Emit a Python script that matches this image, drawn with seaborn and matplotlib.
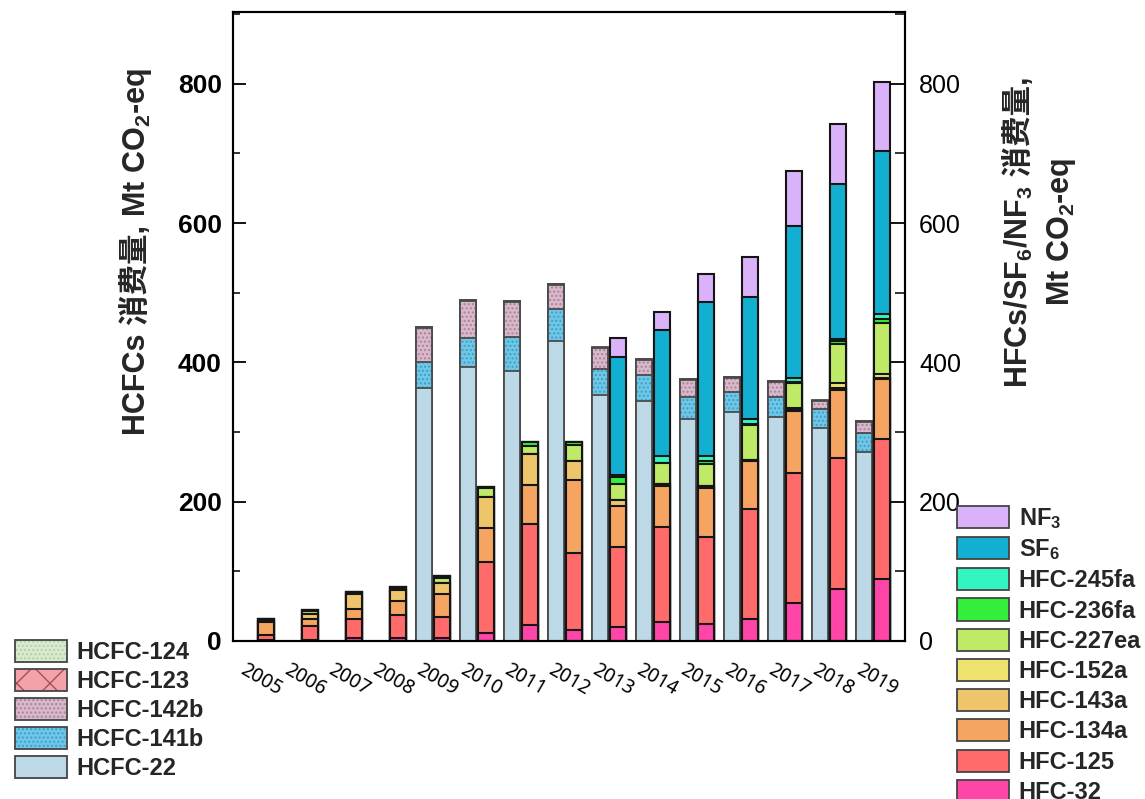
import numpy as np
import matplotlib
matplotlib.use('Agg')
import matplotlib.pyplot as plt
import seaborn as sns
from matplotlib.patches import Patch
from matplotlib.ticker import MultipleLocator
from matplotlib.transforms import IdentityTransform, ScaledTranslation

# years on the x axis
years = list(range(2005, 2020))
hcfc_years = list(range(2009, 2020))

# HCFCs consumption, Mt CO2-eq (bottom -> top of the stack)
hcfc_22 = [363, 393, 388, 431, 353, 345, 319, 329, 321, 306, 271]
hcfc_141b = [38, 42, 49, 46, 38, 37, 31, 29, 29, 27, 28]
hcfc_142b = [49, 53, 50, 34, 29, 22, 25, 20, 22, 11, 16]
hcfc_123 = [1, 1, 1, 1, 1, 1, 1, 1, 1, 1, 1]
hcfc_124 = [0.5, 0.5, 0.5, 0.5, 0.5, 0.5, 0.5, 0.5, 0.5, 0.5, 0.5]

# HFCs / SF6 / NF3 consumption, Mt CO2-eq (bottom -> top of the stack)
hfc_32 = [1, 1, 4, 5, 5, 12, 23, 16, 20, 27, 24, 32, 54, 74, 89]
hfc_125 = [8, 21, 28, 32, 30, 101, 145, 111, 115, 137, 126, 157, 187, 189, 201]
hfc_134a = [18, 10, 14, 21, 32, 49, 56, 104, 59, 59, 69, 69, 89, 97, 86]
hfc_143a = [2, 7, 21, 15, 16, 45, 45, 28, 9, 2, 4, 2, 2, 3, 2]
hfc_152a = [0, 0, 0, 0, 0, 0, 0, 0, 0, 0, 0, 0, 2, 7, 6]
hfc_227ea = [2, 4, 4, 3, 7, 12, 11, 22, 23, 31, 31, 50, 36, 56, 72]
hfc_236fa = [1, 1, 0, 2, 3, 2, 5, 5, 10, 0, 5, 1, 2, 4, 6]
hfc_245fa = [0, 0, 0, 0, 0, 0, 0, 0, 2, 10, 7, 7, 5, 4, 8]
sf6 = [0, 0, 0, 0, 0, 0, 0, 0, 169, 181, 221, 176, 219, 222, 233]
nf3 = [0, 0, 0, 0, 0, 0, 0, 0, 28, 25, 40, 57, 79, 86, 99]

hcfc_layers = [hcfc_22, hcfc_141b, hcfc_142b, hcfc_123, hcfc_124]
hcfc_names = ['HCFC-22', 'HCFC-141b', 'HCFC-142b', 'HCFC-123', 'HCFC-124']
hcfc_colors = ['#BDD9E7', '#6FC7E6', '#D9B8CC', '#F2A2AB', '#D9EBCF']
hcfc_hatch = [None, '....', '....', 'x', '....']
hcfc_hatch_col = [None, '#3E9FCB', '#A9849A', '#A8505A', '#B4CFA6']

hfc_layers = [hfc_32, hfc_125, hfc_134a, hfc_143a, hfc_152a, hfc_227ea,
              hfc_236fa, hfc_245fa, sf6, nf3]
hfc_names = ['HFC-32', 'HFC-125', 'HFC-134a', 'HFC-143a', 'HFC-152a',
             'HFC-227ea', 'HFC-236fa', 'HFC-245fa', 'SF$_6$', 'NF$_3$']
hfc_colors = ['#FF45A8', '#FF6B6B', '#F5A462', '#EFC56B', '#EEE36E',
              '#BEEA67', '#33EE3A', '#33F5C0', '#12AFD0', '#DAB2FA']

sns.set_style('ticks')
plt.rcParams['font.family'] = ['Liberation Sans', 'DejaVu Sans', 'Noto Sans CJK SC']
plt.rcParams['mathtext.default'] = 'regular'
plt.rcParams['hatch.linewidth'] = 1.0

fig = plt.figure(figsize=(11.45, 7.99), dpi=100)
ax = fig.add_axes([233/1145, 1-641/799, 672/1145, 629/799])

bw = 0.36
hcfc_pos = np.array([years.index(y) for y in hcfc_years]) - 0.205
hfc_pos = np.arange(len(years)) + 0.205


def draw_stack(pos, layers, colors, hatches, hatch_cols, edge, lw):
    cum = np.cumsum(np.array(layers, dtype=float), axis=0)
    # draw from the top layer down, each bar covers the lower part of the previous one
    for k in range(len(layers) - 1, -1, -1):
        h = hatches[k] if hatches else None
        if h:
            sns.barplot(x=pos, y=cum[k], native_scale=True, orient='x', width=bw,
                        color=colors[k], saturation=1, errorbar=None, hatch=h,
                        edgecolor=hatch_cols[k], linewidth=0, ax=ax)
            sns.barplot(x=pos, y=cum[k], native_scale=True, orient='x', width=bw,
                        fill=False, color=edge, saturation=1, errorbar=None,
                        linewidth=lw, ax=ax)
        else:
            sns.barplot(x=pos, y=cum[k], native_scale=True, orient='x', width=bw,
                        color=colors[k], saturation=1, errorbar=None,
                        edgecolor=edge, linewidth=lw, ax=ax)


draw_stack(hcfc_pos, hcfc_layers, hcfc_colors, hcfc_hatch, hcfc_hatch_col, '#4a4a4a', 1.3)
draw_stack(hfc_pos, hfc_layers, hfc_colors, None, None, '#151515', 1.5)

ax.set_xlim(-0.545, 14.73)
ax.set_ylim(0, 903)
ax.set_xlabel('')
ax.set_ylabel('')
ax.set_xticks(range(len(years)))
ax.set_xticklabels([str(y) for y in years], rotation=-30, fontsize=14,
                   family='Noto Sans', color='black')
ax.tick_params(axis='x', length=0, pad=14)
shift = ScaledTranslation(4/100, 0, fig.dpi_scale_trans)
for t in ax.get_xticklabels():
    t.set_transform(t.get_transform() + shift)
ax.set_yticks([0, 200, 400, 600, 800])
ax.yaxis.set_minor_locator(MultipleLocator(100))
ax.tick_params(axis='y', which='major', direction='in', length=9, width=1.3,
               labelsize=19, pad=8, colors='black')
ax.tick_params(axis='y', which='minor', direction='in', length=5, width=1.3)
for t in ax.get_yticklabels():
    t.set_fontweight('bold')
for s in ax.spines.values():
    s.set_color('black')
    s.set_linewidth(1.5)

ax2 = ax.twinx()
ax2.set_ylim(0, 903)
ax2.set_yticks([0, 200, 400, 600, 800])
ax2.yaxis.set_minor_locator(MultipleLocator(100))
ax2.tick_params(axis='y', which='major', direction='in', length=11, width=1.3,
                labelsize=18, pad=10, colors='black')
ax2.tick_params(axis='y', which='minor', direction='in', length=7, width=1.3)
for s in ax2.spines.values():
    s.set_color('black')
    s.set_linewidth(1.5)


def vertical_label(xc, yc, pieces, size):
    # pieces are drawn one after the other going upward (rotated 90), centred on (xc, yc)
    # xc, yc in picture pixels from the top-left corner
    renderer = fig.canvas.get_renderer()
    texts = [fig.text(0, 0, p, rotation=90, rotation_mode='anchor', ha='left',
                      va='baseline', fontsize=size, fontweight='bold',
                      transform=IdentityTransform()) for p in pieces]
    lengths = [t.get_window_extent(renderer).height for t in texts]
    y = (799 - yc) - sum(lengths) / 2
    xb = xc + 0.36 * size * 100 / 72
    for t, L in zip(texts, lengths):
        t.set_position((xb, y))
        y += L


vertical_label(134, 252, ['HCFCs 消费量,', ' Mt CO$_2$-eq'], 22)
vertical_label(1017, 232, ['HFCs/SF$_6$/NF$_3$', ' 消费量,'], 22)
vertical_label(1058, 232, ['Mt CO$_2$-eq'], 22)

# legends
edge = '#444444'
left_handles = []
for k in [4, 3, 2, 1, 0]:
    if hcfc_hatch[k]:
        left_handles.append((Patch(facecolor=hcfc_colors[k], edgecolor=hcfc_hatch_col[k],
                                   hatch=hcfc_hatch[k], linewidth=0),
                             Patch(facecolor='none', edgecolor=edge, linewidth=1.3)))
    else:
        left_handles.append(Patch(facecolor=hcfc_colors[k], edgecolor=edge, linewidth=1.3))
fig.legend(left_handles, [hcfc_names[k] for k in [4, 3, 2, 1, 0]],
           loc='upper left', bbox_to_anchor=(15/1145, 1-640/799), frameon=False,
           prop={'size': 17, 'weight': 'bold'}, handlelength=2.2, handleheight=1.06,
           labelspacing=0.21, handletextpad=0.42, borderpad=0, borderaxespad=0)

right_handles = [Patch(facecolor=hfc_colors[k], edgecolor=edge, linewidth=1.3)
                 for k in range(9, -1, -1)]
fig.legend(right_handles, [hfc_names[k] for k in range(9, -1, -1)],
           loc='upper left', bbox_to_anchor=(957/1145, 1-506/799), frameon=False,
           prop={'size': 17, 'weight': 'bold'}, handlelength=2.2, handleheight=1.06,
           labelspacing=0.26, handletextpad=0.42, borderpad=0, borderaxespad=0)

fig.savefig('out.png', dpi=100)
